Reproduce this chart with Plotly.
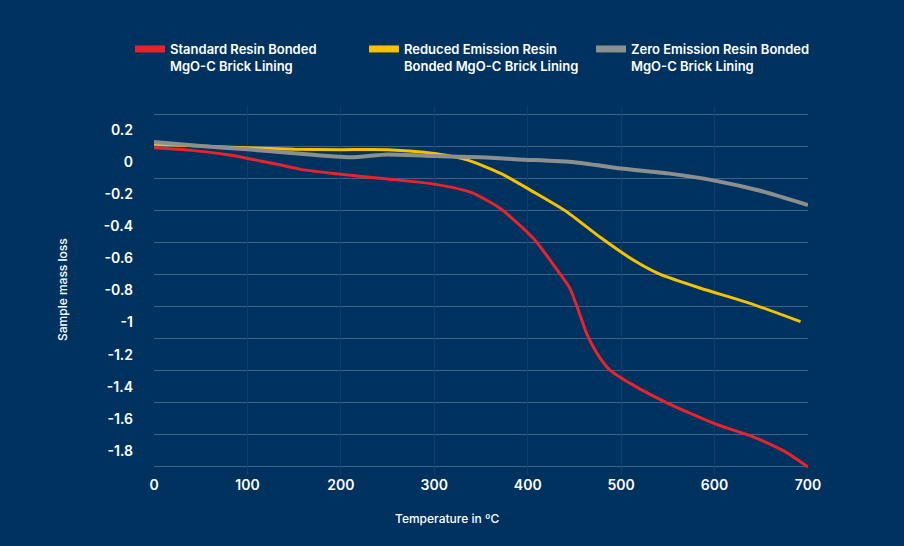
import plotly.graph_objects as go

# ---- data ----
red_t = [0, 38, 81, 100, 128, 157, 200, 250, 300, 340, 371, 406, 435, 445, 454, 463, 474, 488, 513, 549, 602, 638, 674, 700]
red_v = [-0.01, -0.025, -0.056, -0.077, -0.108, -0.145, -0.176, -0.205, -0.237, -0.29, -0.39, -0.575, -0.80, -0.885, -1.02, -1.167, -1.29, -1.396, -1.49, -1.60, -1.735, -1.805, -1.90, -2.0]

yel_t = [0, 50, 100, 150, 200, 250, 300, 336, 371, 406, 442, 478, 513, 542, 585, 638, 692]
yel_v = [0.012, 0.0, -0.01, -0.02, -0.022, -0.022, -0.046, -0.087, -0.17, -0.285, -0.41, -0.57, -0.71, -0.80, -0.886, -0.98, -1.094]

gry_t = [0, 50, 100, 150, 210, 250, 300, 350, 390, 450, 500, 550, 600, 650, 700]
gry_v = [0.025, 0.0, -0.02, -0.045, -0.07, -0.052, -0.062, -0.07, -0.083, -0.10, -0.14, -0.17, -0.215, -0.28, -0.367]

names = ["Standard Resin Bonded<br>MgO-C Brick Lining",
         "Reduced Emission Resin<br>Bonded MgO-C Brick Lining",
         "Zero Emission Resin Bonded<br>MgO-C Brick Lining"]

x_ticks = [0, 100, 200, 300, 400, 500, 600, 700]
y_grid = [0.2, 0.0, -0.2, -0.4, -0.6, -0.8, -1.0, -1.2, -1.4, -1.6, -1.8, -2.0]
y_label_pos = [0.1, -0.1, -0.3, -0.5, -0.7, -0.9, -1.1, -1.3, -1.5, -1.7, -1.9]
y_labels = ["0.2", "0", "-0.2", "-0.4", "-0.6", "-0.8", "-1", "-1.2", "-1.4", "-1.6", "-1.8"]

# ---- style ----
BG = "#00325f"
RED = "#e8232b"
YEL = "#f6c200"
GRY = "#8b908c"
FONT = "Inter"

fig = go.Figure()
series = [(red_t, red_v, RED, 3), (yel_t, yel_v, YEL, 3), (gry_t, gry_v, GRY, 4)]
legends = ["legend", "legend2", "legend3"]
for (t, v, c, w), nm, lg in zip(series, names, legends):
    fig.add_trace(go.Scatter(x=t, y=v, mode="lines", line=dict(color=c, width=w, shape="spline", smoothing=0.6),
                             showlegend=False, cliponaxis=False, hoverinfo="skip"))
    fig.add_trace(go.Scatter(x=[None], y=[None], mode="lines", line=dict(color=c, width=7),
                             name=nm, showlegend=True, legend=lg))

leg_common = dict(orientation="h", bgcolor="rgba(0,0,0,0)", yanchor="top", xanchor="left", valign="top",
                  font=dict(family=FONT, size=13, color="white", weight=600), itemwidth=30)
W, H = 904, 546
ml, mr, mt, mb = 154, 96, 106, 71
pw, ph = W - ml - mr, H - mt - mb

def px2x(px):
    return (px - ml) / pw

def py2y(py):
    return (H - mb - py) / ph

leg_y = py2y(34)
fig.update_layout(
    legend=dict(x=px2x(130), y=leg_y, **leg_common),
    legend2=dict(x=px2x(364), y=leg_y, **leg_common),
    legend3=dict(x=px2x(591), y=leg_y, **leg_common),
)

fig.update_layout(
    width=W, height=H,
    margin=dict(l=ml, r=mr, t=mt, b=mb),
    paper_bgcolor=BG, plot_bgcolor=BG,
    font=dict(family=FONT, color="white"),
    xaxis=dict(range=[0, 700], tickvals=x_ticks, ticktext=[str(v) for v in x_ticks],
               showgrid=True, gridcolor="#0d3e6e", gridwidth=1, zeroline=False, showline=False,
               tickfont=dict(family=FONT, size=14, color="white", weight=600), ticks=""),
    yaxis=dict(range=[-2.05, 0.25], tickvals=y_label_pos, ticktext=y_labels,
               showgrid=False, zeroline=False, showline=False, ticks="",
               ticklabelstandoff=20,
               tickfont=dict(family=FONT, size=14, color="white", weight=600),
               minor=dict(tickvals=y_grid, showgrid=True, gridcolor="#3f6289", gridwidth=1, ticks="")),
)

fig.add_annotation(text="Temperature in ºC", xref="paper", yref="paper", x=px2x(447), y=py2y(518),
                   xanchor="center", yanchor="middle",
                   showarrow=False, font=dict(family=FONT, size=12, color="white", weight=500))
fig.add_annotation(text="Sample mass loss", xref="paper", yref="paper", x=px2x(62), y=py2y(290),
                   xanchor="center", yanchor="middle",
                   textangle=-90, showarrow=False, font=dict(family=FONT, size=12, color="white", weight=500))

fig.write_html("out.html", config={"displayModeBar": False},
               post_script="document.body.style.margin='0';document.body.style.overflow='hidden';")
